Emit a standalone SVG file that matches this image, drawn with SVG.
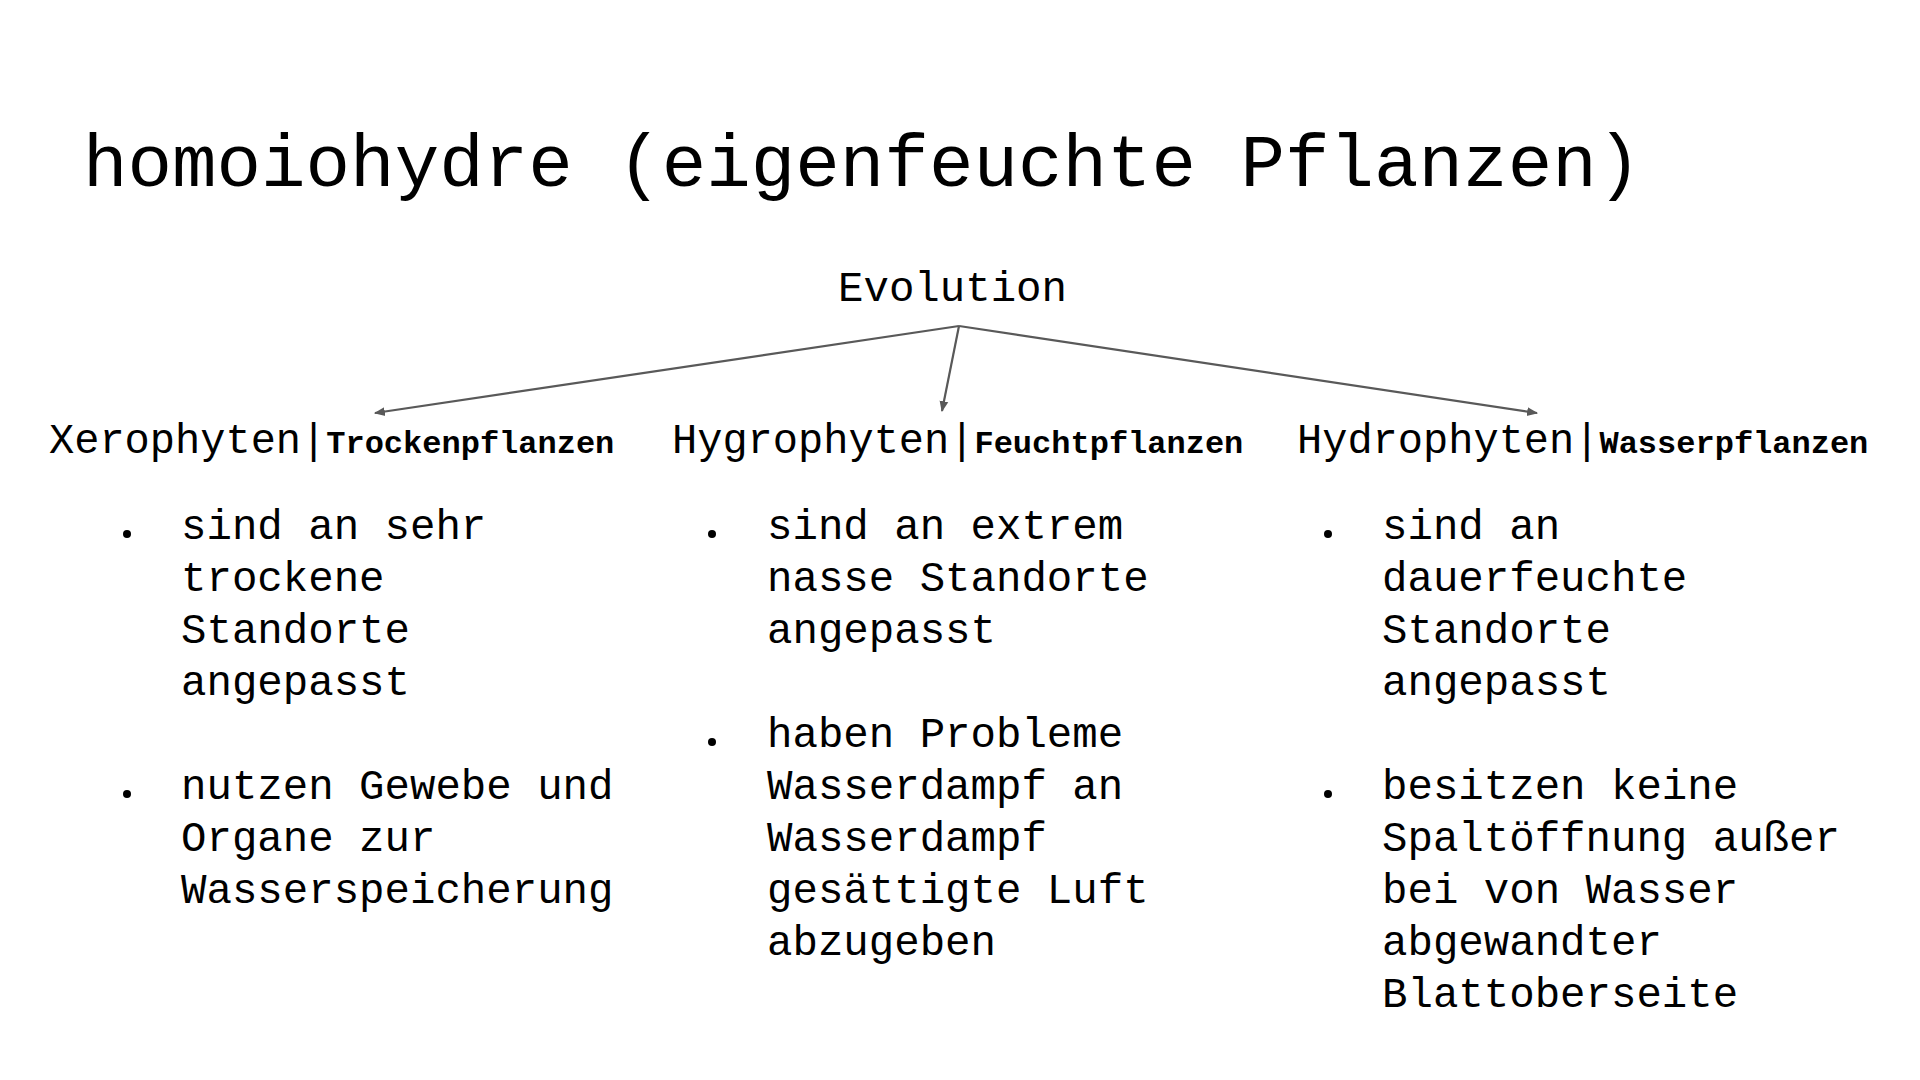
<svg xmlns="http://www.w3.org/2000/svg" width="1920" height="1080" viewBox="0 0 1920 1080">
<style>
text{font-family:"Liberation Mono","Courier New",monospace;fill:#000}
.t{font-size:74.2px}
.n{font-size:42.4px}
.b{font-size:32px;font-weight:bold}
.edge{stroke:#595959;stroke-width:2.2;fill:none}
.dot{fill:#000}
</style>
<defs>
<marker id="ah" viewBox="0 0 10 10" refX="9" refY="5" markerWidth="5" markerHeight="5" orient="auto" markerUnits="strokeWidth">
<path d="M0,1 L10,5 L0,9 Z" fill="#595959"/>
</marker>
</defs>
<rect width="1920" height="1080" fill="#fff"/>
<g id="title"><text class="t" x="83" y="186">homoiohydre (eigenfeuchte Pflanzen)</text></g>
<g id="evolution"><text class="n" x="838" y="301">Evolution</text></g>
<g id="connectors">
<line class="edge" x1="959" y1="326" x2="375" y2="413" marker-end="url(#ah)"/>
<line class="edge" x1="959" y1="326" x2="942" y2="411" marker-end="url(#ah)"/>
<line class="edge" x1="959" y1="326" x2="1537" y2="413" marker-end="url(#ah)"/>
</g>
<g id="xerophyten">
<text x="49" y="453"><tspan class="n" style="font-size:42px">Xerophyten|</tspan><tspan class="b">Trockenpflanzen</tspan></text>
<circle class="dot" cx="127" cy="534" r="4"/>
<text class="n" x="181" y="539">sind an sehr</text>
<text class="n" x="181" y="591">trockene</text>
<text class="n" x="181" y="643">Standorte</text>
<text class="n" x="181" y="695">angepasst</text>
<circle class="dot" cx="127" cy="794" r="4"/>
<text class="n" x="181" y="799">nutzen Gewebe und</text>
<text class="n" x="181" y="851">Organe zur</text>
<text class="n" x="181" y="903">Wasserspeicherung</text>
</g>
<g id="hygrophyten">
<text x="672" y="453"><tspan class="n" style="font-size:42px">Hygrophyten|</tspan><tspan class="b">Feuchtpflanzen</tspan></text>
<circle class="dot" cx="712" cy="534" r="4"/>
<text class="n" x="767" y="539">sind an extrem</text>
<text class="n" x="767" y="591">nasse Standorte</text>
<text class="n" x="767" y="643">angepasst</text>
<circle class="dot" cx="712" cy="742" r="4"/>
<text class="n" x="767" y="747">haben Probleme</text>
<text class="n" x="767" y="799">Wasserdampf an</text>
<text class="n" x="767" y="851">Wasserdampf</text>
<text class="n" x="767" y="903">gesättigte Luft</text>
<text class="n" x="767" y="955">abzugeben</text>
</g>
<g id="hydrophyten">
<text x="1297" y="453"><tspan class="n" style="font-size:42px">Hydrophyten|</tspan><tspan class="b">Wasserpflanzen</tspan></text>
<circle class="dot" cx="1328" cy="534" r="4"/>
<text class="n" x="1382" y="539">sind an</text>
<text class="n" x="1382" y="591">dauerfeuchte</text>
<text class="n" x="1382" y="643">Standorte</text>
<text class="n" x="1382" y="695">angepasst</text>
<circle class="dot" cx="1328" cy="794" r="4"/>
<text class="n" x="1382" y="799">besitzen keine</text>
<text class="n" x="1382" y="851">Spaltöffnung außer</text>
<text class="n" x="1382" y="903">bei von Wasser</text>
<text class="n" x="1382" y="955">abgewandter</text>
<text class="n" x="1382" y="1007">Blattoberseite</text>
</g>
</svg>
